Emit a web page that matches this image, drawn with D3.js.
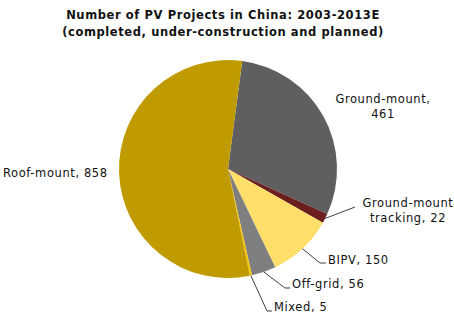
<!DOCTYPE html>
<html><head><meta charset="utf-8">
<script src="https://cdn.jsdelivr.net/npm/d3@7"></script>
<style>body{margin:0;background:#fff}svg{display:block}text{font-family:"DejaVu Sans",Verdana,sans-serif;letter-spacing:0.6px}</style>
</head><body><svg id="c" width="454" height="334"></svg>
<script>
const categories = ["Ground-mount", "Ground-mount tracking", "BIPV", "Off-grid", "Mixed", "Roof-mount"];
const values = [461, 22, 150, 56, 5, 858];
const colors = ["#5f5f5f", "#6b1f1f", "#ffdf6a", "#7f7f7f", "#f5c400", "#c09b00"];
const labelLines = [["Ground-mount,", "461"], ["Ground-mount", "tracking, 22"], ["BIPV, 150"], ["Off-grid, 56"], ["Mixed, 5"], ["Roof-mount, 858"]];
const titleLines = ["Number of PV Projects in China: 2003-2013E", "(completed, under-construction and planned)"];

// layout (not data)
const cx = 228, cy = 169, R = 109, start = 7.5 * Math.PI / 180;
const labelLayout = [
  {x: 383, y: 103, anchor: "middle", leader: null},
  {x: 408, y: 207, anchor: "middle", leader: [[355, 207]]},
  {x: 328, y: 264, anchor: "start", leader: [[320, 263], [326, 263]]},
  {x: 292, y: 288, anchor: "start", leader: [[285, 288], [290, 288]]},
  {x: 274, y: 311, anchor: "start", leader: [[267, 311], [272, 311]]},
  {x: 3, y: 177, anchor: "start", leader: null}
];

const svg = d3.select("#c");
svg.append("rect").attr("width", 454).attr("height", 334).attr("fill", "#fff");

svg.selectAll("text.title").data(titleLines).join("text").attr("class", "title")
  .attr("x", 223).attr("y", (d, i) => 19 + i * 17).attr("text-anchor", "middle")
  .attr("font-size", 11.5).attr("font-weight", "bold").attr("fill", "#111").text(d => d);

const pie = d3.pie().sort(null).value(d => d).startAngle(start).endAngle(start + 2 * Math.PI);
const arcs = pie(values);
const arc = d3.arc().innerRadius(0).outerRadius(R);
const g = svg.append("g").attr("transform", `translate(${cx},${cy})`);
g.selectAll("path").data(arcs).join("path").attr("d", arc).attr("fill", (d, i) => colors[i]);

arcs.forEach((a, i) => {
  const L = labelLayout[i];
  if (L.leader) {
    const m = (a.startAngle + a.endAngle) / 2;
    const p0 = [cx + Math.sin(m) * R, cy - Math.cos(m) * R];
    const pts = [p0].concat(L.leader);
    svg.append("path").attr("d", d3.line()(pts)).attr("fill", "none")
      .attr("stroke", "#404040").attr("stroke-width", 1);
  }
  labelLines[i].forEach((t, j) => {
    svg.append("text").attr("x", L.x).attr("y", L.y + j * 15).attr("text-anchor", L.anchor)
      .attr("font-size", 11.5).attr("fill", "#111").text(t);
  });
});
</script></body></html>
